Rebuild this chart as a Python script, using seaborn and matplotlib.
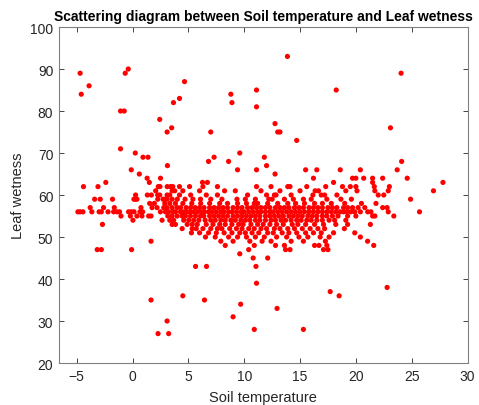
import matplotlib
matplotlib.use("Agg")
import matplotlib.pyplot as plt
import seaborn as sns
import pandas as pd

# ---- data: soil temperature values grouped by leaf-wetness level ----
row_93 = [13.87]
row_90 = [-0.39]
row_89 = [-4.7, -0.66, 24.05]
row_87 = [4.65]
row_86 = [-3.9]
row_85 = [11.1, 18.24]
row_84 = [-4.6, 8.8]
row_83 = [4.2]
row_82 = [3.66, 8.9]
row_81 = [11.1]
row_80 = [-1.08, -0.75]
row_78 = [2.43]
row_77 = [12.76]
row_76 = [3.5, 23.1]
row_75 = [3.09, 7.0, 13.0, 13.2]
row_73 = [14.7]
row_71 = [-1.08]
row_70 = [0.24, 9.6]
row_69 = [0.93, 1.38, 7.3, 11.8]
row_68 = [6.8, 8.6, 24.1]
row_67 = [3.12, 12.0]
row_66 = [-0.12, 9.4, 11.1, 15.5, 16.5, 18.6, 20.4, 23.7]
row_65 = [0.6, 12.76]
row_64 = [1.3, 2.5, 16.2, 19.7, 20.0, 20.7, 21.5, 22.4, 24.6]
row_63 = [-2.4, 1.5, 6.26, 6.7, 18.0, 21.5, 27.8]
row_62 = [-4.4, -3.1, 2.3, 2.45, 3.1, 3.4, 3.6, 4.2, 5.1, 6.3, 7.6, 11.1, 12.4,
          13.9, 14.1, 15.6, 17.3, 18.8, 19.5, 20.0, 21.65, 23.0]
row_61 = [2.07, 3.54, 3.77, 4.5, 6.0, 8.24, 9.2, 11.5, 13.2, 15.0, 16.35, 16.65,
          19.1, 20.1, 21.7, 22.9, 26.95]
row_60 = [0.27, 1.32, 1.68, 2.25, 2.43, 3.09, 3.33, 4.2, 5.2, 6.6, 7.6, 10.3, 12.0,
          12.7, 12.85, 14.2, 16.15, 16.9, 17.2, 18.3, 22.0, 22.5]
row_59 = [-3.4, -2.9, -1.8, 0.12, 0.24, 0.39, 2.25, 2.73, 2.9, 3.09, 3.54, 4.0, 4.7,
          5.4, 6.08, 7.0, 8.0, 9.35, 10.1, 11.0, 12.2, 12.5, 13.6, 14.4, 15.3, 16.0,
          17.4, 18.66, 19.6, 24.9]
row_58 = [1.53, 1.95, 2.88, 3.33, 3.84, 4.5, 5.3, 6.1, 6.9, 7.8, 8.5, 9.4, 10.2,
          10.9, 11.2, 12.1, 13.0, 13.9, 14.6, 15.4, 16.3, 17.0, 17.8, 19.0, 20.5, 21.8]
row_57 = [-3.8, -2.6, -1.64, 0.75, 1.74, 2.19, 2.79, 3.09, 3.54, 3.99, 4.3, 4.8, 5.2,
          5.6, 6.0, 6.4, 6.9, 7.3, 7.7, 8.1, 8.5, 9.0, 9.4, 9.8, 10.3, 10.7, 11.1,
          11.5, 11.9, 12.3, 12.8, 13.2, 13.6, 14.0, 14.5, 14.9, 15.3, 15.8, 16.2,
          16.6, 17.0, 17.5, 17.9, 18.3, 18.9, 19.26, 19.7, 20.2, 20.8, 22.4, 22.8]
row_56 = [-4.9, -4.7, -4.45, -3.65, -3.0, -2.8, -2.2, -1.7, -1.4, -1.17, -0.36,
          -0.12, 0.13, 0.66, 0.9, 2.49, 2.94, 3.24, 3.63, 3.84, 4.29, 4.58, 4.89,
          5.18, 5.48, 5.79, 6.15, 6.44, 6.8, 7.1, 7.5, 7.9, 8.2, 8.6, 8.9, 9.3, 9.7,
          10.0, 10.4, 10.8, 11.2, 11.5, 11.9, 12.3, 12.6, 13.0, 13.4, 13.8, 14.2,
          14.6, 15.0, 15.4, 15.8, 16.2, 16.6, 17.0, 17.4, 17.8, 18.2, 18.6, 18.9,
          19.2, 19.56, 19.9, 20.4, 21.06, 21.35, 22.9, 25.7]
row_55 = [-1.04, -0.2, 0.39, 0.84, 1.44, 1.65, 3.15, 3.54, 3.99, 4.44, 4.73, 5.18,
          5.63, 6.08, 6.38, 6.9, 7.3, 7.7, 8.1, 8.5, 9.0, 9.4, 9.8, 10.2, 10.6,
          11.0, 11.4, 11.9, 12.3, 12.7, 13.1, 13.5, 14.0, 14.4, 14.8, 15.2, 15.7,
          16.1, 16.5, 17.0, 17.4, 17.9, 18.4, 19.26, 20.0, 21.5, 21.7, 23.4]
row_54 = [0.03, 2.64, 3.33, 3.68, 4.58, 5.03, 5.48, 5.93, 6.5, 7.0, 7.4, 7.9, 8.3,
          8.8, 9.2, 9.7, 10.1, 10.5, 11.0, 11.4, 11.9, 12.4, 12.8, 13.3, 13.7, 14.2,
          14.7, 15.1, 15.6, 16.0, 16.5, 17.0, 17.6, 18.1, 19.1]
row_53 = [-2.7, 3.54, 3.84, 4.89, 5.34, 5.79, 6.6, 7.2, 7.8, 8.3, 8.9, 9.5, 9.9,
          10.6, 11.2, 11.7, 12.3, 12.9, 13.5, 14.3, 14.8, 15.5, 16.3, 17.1, 18.2,
          19.26, 21.3]
row_52 = [4.44, 5.34, 5.7, 6.3, 7.0, 7.6, 8.0, 8.7, 9.3, 9.8, 10.4, 10.9, 11.5,
          12.0, 12.7, 13.2, 13.9, 14.5, 15.2, 15.9, 16.6, 17.2, 18.97]
row_51 = [5.27, 6.0, 6.8, 7.5, 8.2, 8.9, 9.6, 10.1, 10.7, 11.3, 12.1, 12.6, 13.4,
          14.0, 14.7, 15.5, 16.2, 16.9, 18.0, 19.9]
row_50 = [6.53, 7.4, 8.6, 9.4, 10.2, 11.0, 11.8, 12.9, 13.8, 14.9, 15.7, 16.8,
          17.6, 20.4]
row_49 = [1.65, 7.9, 9.0, 10.5, 11.6, 12.4, 14.2, 15.3, 17.27, 21.05]
row_48 = [8.3, 10.9, 12.8, 13.6, 16.3, 16.7, 17.4, 21.6]
row_47 = [-3.17, -2.8, -0.09, 10.4, 13.7, 14.1, 17.1, 17.5]
row_46 = [9.6]
row_45 = [10.8, 12.1]
row_43 = [5.64, 6.62, 11.05]
row_39 = [11.1]
row_38 = [22.8]
row_37 = [17.7]
row_36 = [4.5, 18.5]
row_35 = [1.65, 6.44]
row_34 = [9.68]
row_33 = [12.94]
row_31 = [9.0]
row_30 = [3.09]
row_28 = [10.9, 15.3]
row_27 = [2.28, 3.23]

rows = {93: row_93, 90: row_90, 89: row_89, 87: row_87, 86: row_86, 85: row_85,
        84: row_84, 83: row_83, 82: row_82, 81: row_81, 80: row_80, 78: row_78,
        77: row_77, 76: row_76, 75: row_75, 73: row_73, 71: row_71, 70: row_70,
        69: row_69, 68: row_68, 67: row_67, 66: row_66, 65: row_65, 64: row_64,
        63: row_63, 62: row_62, 61: row_61, 60: row_60, 59: row_59, 58: row_58,
        57: row_57, 56: row_56, 55: row_55, 54: row_54, 53: row_53, 52: row_52,
        51: row_51, 50: row_50, 49: row_49, 48: row_48, 47: row_47, 46: row_46,
        45: row_45, 43: row_43, 39: row_39, 38: row_38, 37: row_37, 36: row_36,
        35: row_35, 34: row_34, 33: row_33, 31: row_31, 30: row_30, 28: row_28,
        27: row_27}

soil, wet = [], []
for w, xs in rows.items():
    for s in xs:
        soil.append(s)
        wet.append(w)
df = pd.DataFrame({"Soil temperature": soil, "Leaf wetness": wet})

x_ticks = [-5, 0, 5, 10, 15, 20, 25, 30]
y_ticks = [20, 30, 40, 50, 60, 70, 80, 90, 100]

sns.set_theme(style="white")
plt.rcParams['font.family'] = ['Liberation Sans', 'DejaVu Sans']

fig = plt.figure(figsize=(4.79, 4.06), dpi=100)
ax = fig.add_axes([0.123, 0.1034, 0.853, 0.8276])
sns.scatterplot(data=df, x="Soil temperature", y="Leaf wetness", ax=ax,
                color="#ff0000", s=14, edgecolor="none", linewidth=0)

ax.set_xlim(-6.6, 30)
ax.set_ylim(20, 100)
ax.set_xticks(x_ticks)
ax.set_yticks(y_ticks)
ax.tick_params(direction="in", length=3.5, width=0.6, colors="#262626",
               labelsize=10, top=True, right=True, bottom=True, left=True,
               labelcolor="#262626", pad=4)
for sp in ax.spines.values():
    sp.set_visible(True)
    sp.set_color("#808080")
    sp.set_linewidth(0.8)
ax.set_xlabel("Soil temperature", fontsize=10.5, color="#262626", labelpad=5)
ax.set_ylabel("Leaf wetness", fontsize=10.5, color="#262626", labelpad=4)
ax.set_title("Scattering diagram between Soil temperature and Leaf wetness",
             fontsize=10, fontweight="bold", color="#000000", pad=5)

fig.savefig("out.png", dpi=100)
